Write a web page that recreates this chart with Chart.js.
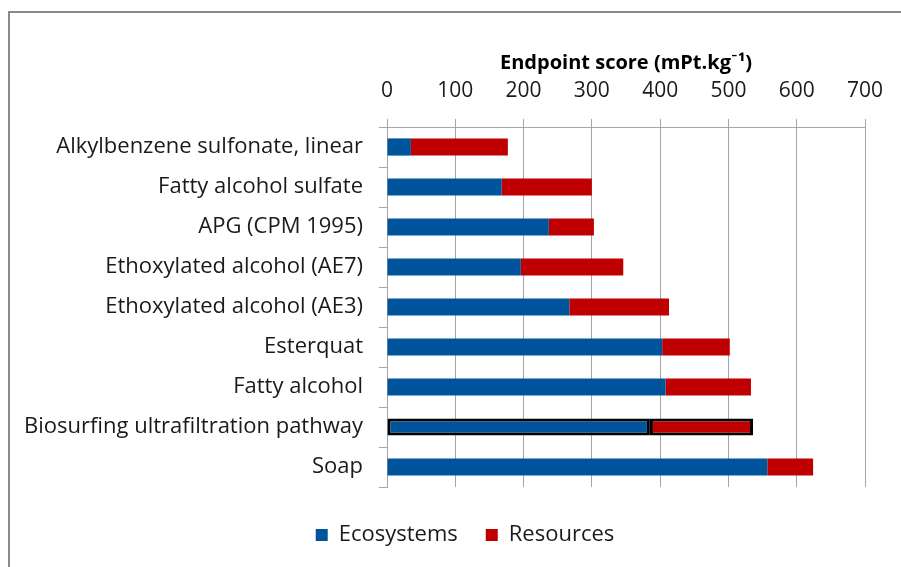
<!DOCTYPE html>
<html>
<head>
<meta charset="utf-8">
<script src="https://cdn.jsdelivr.net/npm/chart.js@4"></script>
<style>
  html, body { margin: 0; padding: 0; background: #ffffff; }
  #wrap { width: 901px; height: 567px; position: relative; }
</style>
</head>
<body>
<div id="wrap"><canvas id="c" width="901" height="567"></canvas></div>
<script>
const categories = [
  "Alkylbenzene sulfonate, linear",
  "Fatty alcohol sulfate",
  "APG (CPM 1995)",
  "Ethoxylated alcohol (AE7)",
  "Ethoxylated alcohol (AE3)",
  "Esterquat",
  "Fatty alcohol",
  "Biosurfing ultrafiltration pathway",
  "Soap"
];
const ecosystems = [35, 168, 237, 196, 267, 403, 408, 385, 557];
const resources  = [142, 132, 66, 150, 146, 99, 125, 151, 67];
const seriesNames = ["Ecosystems", "Resources"];
const axisTitle = "Endpoint score (mPt.kg\u207B\u00B9)";
const highlighted = "Biosurfing ultrafiltration pathway";

const FONT = "'Open Sans', Lato, 'DejaVu Sans', sans-serif";
const PAD_LEFT = 12;

const framePlugin = {
  id: 'frame',
  beforeDraw(chart) {
    const ctx = chart.ctx;
    ctx.save();
    ctx.strokeStyle = '#8a8a8a';
    ctx.lineWidth = 2;
    ctx.strokeRect(9, 12, 1000, 1000);
    ctx.restore();
  }
};

// place the legend like the original: centred at x=465, row centred near y=535
const legendShift = {
  id: 'legendShift',
  afterLayout(chart) {
    const lg = chart.legend;
    if (!lg) return;
    const dx = 465 - (lg.left + lg.right) / 2;
    lg.left += dx;
    lg.right += dx;
    const dy = 485 - lg.top + 11;
    lg.top += dy;
    lg.bottom += dy;
  }
};

const hi = (ctx) => categories[ctx.dataIndex] === highlighted;

new Chart(document.getElementById('c'), {
  type: 'bar',
  data: {
    labels: categories,
    datasets: [
      {
        label: seriesNames[0],
        data: ecosystems,
        backgroundColor: '#00549b',
        borderColor: (ctx) => hi(ctx) ? '#000000' : '#00549b',
        borderWidth: (ctx) => hi(ctx) ? 3 : 0,
        borderSkipped: false
      },
      {
        label: seriesNames[1],
        data: resources,
        backgroundColor: '#c00000',
        borderColor: (ctx) => hi(ctx) ? '#000000' : '#c00000',
        borderWidth: (ctx) => hi(ctx) ? 3 : 0,
        borderSkipped: false
      }
    ]
  },
  options: {
    indexAxis: 'y',
    responsive: false,
    animation: false,
    devicePixelRatio: 1,
    barPercentage: 0.43,
    categoryPercentage: 1,
    layout: { padding: { left: PAD_LEFT, right: 36, top: 0, bottom: 20 } },
    plugins: {
      legend: {
        position: 'bottom',
        labels: {
          font: { family: FONT, size: 22 },
          color: '#1a1a1a',
          boxWidth: 12,
          boxHeight: 12,
          padding: 28
        }
      },
      tooltip: { enabled: false },
      title: { display: false }
    },
    scales: {
      x: {
        position: 'top',
        stacked: true,
        min: 0,
        max: 700,
        ticks: {
          stepSize: 100,
          font: { family: FONT, size: 21 },
          color: '#1a1a1a',
          padding: 15
        },
        grid: {
          color: '#a6a6a6',
          lineWidth: 1,
          tickLength: 8,
          drawTicks: true
        },
        border: { color: '#a6a6a6', width: 1 },
        title: {
          display: true,
          text: axisTitle,
          font: { family: FONT, size: 20, weight: 'bold' },
          color: '#000000',
          padding: { top: 51, bottom: 0 }
        },
        afterFit(scale) { scale.height = 127; }
      },
      y: {
        stacked: true,
        ticks: {
          font: { family: FONT, size: 22 },
          color: '#1a1a1a',
          padding: 16
        },
        grid: {
          offset: true,
          drawOnChartArea: false,
          drawTicks: true,
          tickLength: 8,
          color: '#a6a6a6'
        },
        border: { color: '#a6a6a6', width: 1 },
        afterFit(scale) { scale.width = 387 - PAD_LEFT; }
      }
    }
  },
  plugins: [framePlugin, legendShift]
});
</script>
</body>
</html>
